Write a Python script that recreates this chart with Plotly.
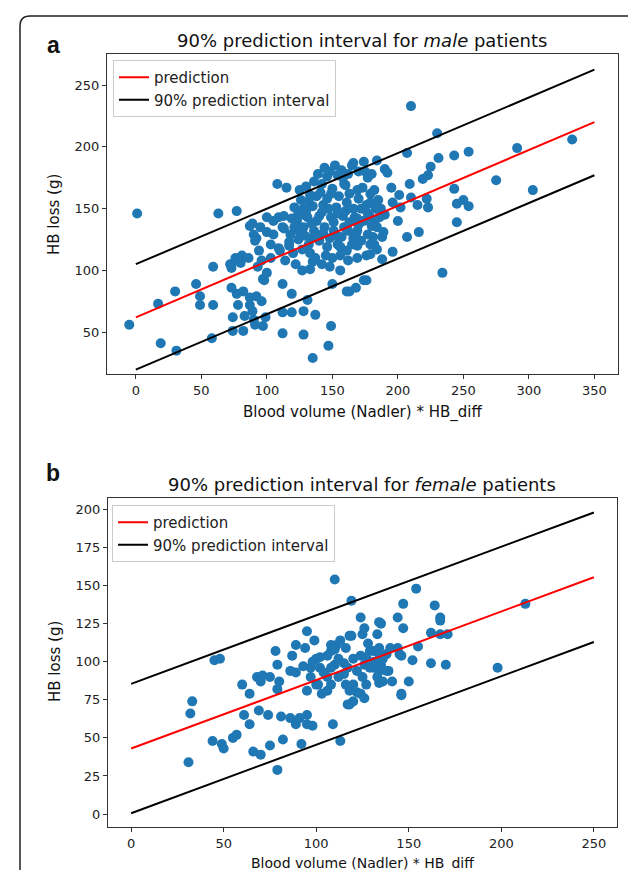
import plotly.graph_objects as go

# ---------------- data ----------------
male_x = [-5, 1, 17, 19, 30, 31, 46, 49, 49, 58, 59, 59, 63, 77,
          72, 73, 76, 77, 80, 81, 86,
          73, 77, 82, 87, 92, 96, 78, 87, 89, 74, 83, 90, 74, 82, 91, 97, 99,
          87, 89, 95, 90, 92, 91, 94, 97,
          100, 105, 103, 108, 115, 109, 113, 112, 113, 109, 110, 117, 117, 114,
          119, 121, 121, 123, 128, 128, 124, 122, 127, 126, 133, 131, 135, 136, 132, 133,
          140, 143, 144, 140, 142, 142, 144, 146, 149, 149, 151, 146, 150, 153, 154, 154, 158, 158, 159, 159, 156, 156,
          112, 119, 112, 119, 112, 128, 128, 131, 137, 149, 147, 135, 98,
          161, 161, 161, 160, 165, 166, 165, 167, 168, 168, 169, 169, 169, 169, 169, 170, 173, 174, 174, 176,
          177, 177, 177, 179, 179, 179, 179, 179, 182, 182, 182, 184, 184, 184, 187, 188, 188, 189, 190, 190,
          192, 195, 196, 196, 200, 201, 202, 207, 207, 209, 210, 210, 215, 216, 219, 222, 223, 223, 225, 230,
          231, 234, 243, 243, 245, 245, 250, 254, 254, 275, 291, 303, 333, 176, 163,
          125, 130, 136, 139, 148, 152, 157, 162, 170, 175, 180,
          128, 132, 138, 141, 146, 150, 155, 163, 166, 172, 176, 183, 185,
          124, 130, 134, 138, 142, 147, 151, 154, 160, 163, 170, 174, 180, 186,
          118, 125, 129, 134, 138, 143, 148, 153, 157, 162, 166, 172, 181,
          120, 127, 133, 137, 145, 150, 156, 162, 148, 135,
          105, 100, 103, 93, 96, 100]
male_y = [56, 146, 73, 41, 83, 35, 89, 79, 72, 45, 103, 72, 146, 148,
          105, 102, 110, 108, 106, 112, 110,
          86, 81, 83, 78, 79, 75, 72, 72, 67, 62, 63, 60, 51, 51, 56, 55, 62,
          136, 138, 135, 129, 126, 124, 116, 93,
          131, 129, 121, 170, 167, 143, 144, 135, 134, 118, 116, 120, 123, 108,
          142, 135, 151, 140, 145, 135, 125, 105, 100, 157, 161, 143, 152, 132, 121, 101,
          144, 153, 135, 124, 105, 170, 183, 176, 162, 143, 132, 119, 89, 151, 121, 177, 175, 144, 135, 170, 100, 119,
          89, 81, 66, 66, 49, 67, 48, 76, 64, 55, 39, 29, 92,
          155, 116, 83, 169, 185, 187, 121, 143, 129, 86, 110, 120, 132, 142, 165, 158, 167, 188, 92, 112,
          146, 129, 175, 155, 162, 143, 121, 113, 139, 165, 121, 189, 135, 117, 150, 127, 109, 131, 182, 145,
          179, 167, 155, 115, 140, 161, 151, 195, 127, 170, 233, 159, 153, 131, 174, 158, 151, 177, 184, 211,
          191, 98, 193, 166, 154, 139, 157, 196, 152, 173, 199, 165, 206, 92, 83,
          165, 168, 172, 178, 180, 185, 181, 178, 180, 180, 178,
          150, 156, 160, 163, 158, 166, 160, 162, 150, 150, 153, 150, 157,
          146, 148, 138, 140, 147, 150, 139, 146, 148, 139, 137, 140, 136, 143,
          129, 131, 128, 126, 129, 130, 126, 128, 127, 132, 126, 124, 127,
          114, 117, 114, 110, 112, 110, 112, 108, 103, 107,
          140, 143, 110, 103, 108, 98]

male_line_x = [0, 350]
male_pred = [62, 220]
male_upper = [105, 262.5]
male_lower = [19.6, 177]

female_x = [31, 33, 32, 45, 48, 44, 49, 50, 55, 57, 60, 64, 61, 64, 66, 70, 69, 68, 71, 75,
            70, 74, 75, 79, 78, 79, 79, 80, 81, 86, 89, 91, 95, 98, 95, 82, 92, 87, 86, 89,
            93, 97, 94, 95, 99, 89, 98, 100, 102, 97, 101, 106, 106, 108, 110, 112, 108, 111, 110, 119,
            124, 126, 118, 116, 120, 126, 122, 118, 118, 122, 126, 127, 109, 113, 95, 103, 100, 113, 102, 106,
            110, 108, 119, 127, 131, 134, 138, 135, 139, 141, 134, 129, 125, 120, 120, 124, 144, 145, 146, 134,
            133, 144, 147, 147, 154, 164, 213, 135, 167, 167, 125, 162, 167, 171, 155, 140, 129, 134, 136, 146,
            152, 162, 170, 198, 131, 134, 138, 133, 136, 150, 146, 116, 117, 115,
            115, 112, 104, 108, 128, 131, 124, 117]
female_y = [34, 74, 66, 101, 102, 48, 46, 43, 50, 52, 85, 79, 65, 59, 41, 39, 68, 90, 91, 90,
            87, 65, 45, 29, 107, 98, 82, 87, 64, 63, 59, 63, 65, 58, 59, 49, 46, 104, 94, 93,
            97, 96, 109, 120, 114, 111, 100, 102, 96, 90, 85, 90, 81, 85, 98, 102, 107, 111, 154, 140,
            129, 122, 117, 109, 102, 98, 94, 81, 72, 80, 76, 85, 59, 48, 81, 79, 85, 114, 103, 104,
            108, 111, 117, 103, 107, 109, 105, 98, 94, 87, 86, 96, 90, 85, 74, 79, 109, 105, 79, 126,
            118, 129, 138, 122, 148, 137, 138, 125, 129, 127, 118, 119, 118, 118, 110, 109, 107, 105, 102, 104,
            101, 99, 98, 96, 96, 94, 94, 90, 87, 87, 78, 85, 72, 99,
            92, 90, 93, 96, 112, 100, 104, 96]

female_line_x = [0, 250]
female_pred = [43, 155.5]
female_upper = [85.5, 198]
female_lower = [0.5, 113]

male_xticks = [0, 50, 100, 150, 200, 250, 300, 350]
male_yticks = [50, 100, 150, 200, 250]
female_xticks = [0, 50, 100, 150, 200, 250]
female_yticks = [0, 25, 50, 75, 100, 125, 150, 175, 200]

# ---------------- layout helpers ----------------
W, H = 636, 870
def px(x):
    return x / W
def py(y):
    return 1 - y / H

FONT = "DejaVu Sans"
BLUE = "#1f77b4"

fig = go.Figure()

def add_panel(xs, ys, lx, pred, up, lo, xa, ya, legend):
    fig.add_trace(go.Scatter(x=xs, y=ys, mode="markers", xaxis=xa, yaxis=ya,
                             marker=dict(color=BLUE, size=10, line=dict(width=0)),
                             showlegend=False, hoverinfo="skip"))
    fig.add_trace(go.Scatter(x=lx, y=pred, mode="lines", xaxis=xa, yaxis=ya,
                             line=dict(color="#ff0000", width=2), name="prediction",
                             legend=legend))
    fig.add_trace(go.Scatter(x=lx + [None] + lx, y=up + [None] + lo, mode="lines",
                             xaxis=xa, yaxis=ya, connectgaps=False,
                             line=dict(color="#000000", width=2),
                             name="90% prediction interval", legend=legend))

add_panel(male_x, male_y, male_line_x, male_pred, male_upper, male_lower, "x", "y", "legend")
add_panel(female_x, female_y, female_line_x, female_pred, female_upper, female_lower, "x2", "y2", "legend2")

axis_common = dict(showgrid=False, zeroline=False, showline=True, linecolor="#333333",
                   linewidth=1, mirror=True, ticks="outside", ticklen=4, tickwidth=1,
                   tickcolor="#333333", automargin=False,
                   tickfont=dict(family=FONT, size=13, color="#222222"))

fig.update_layout(
    width=W, height=H,
    margin=dict(l=0, r=0, t=0, b=0),
    paper_bgcolor="white", plot_bgcolor="white",
    xaxis=dict(domain=[px(99), px(610)], range=[-22, 368], anchor="y",
               tickvals=male_xticks, **axis_common),
    yaxis=dict(domain=[py(366), py(46)], range=[16.1, 275.2], anchor="x",
               tickvals=male_yticks, **axis_common),
    xaxis2=dict(domain=[px(100), px(609)], range=[-12.5, 262.5], anchor="y2",
                tickvals=female_xticks, **axis_common),
    yaxis2=dict(domain=[py(819), py(490)], range=[-8.5, 207.5], anchor="x2",
                tickvals=female_yticks, **axis_common),
    legend=dict(x=px(105), y=py(52), xanchor="left", yanchor="top",
                bgcolor="rgba(255,255,255,0.8)", bordercolor="#cccccc", borderwidth=1,
                font=dict(family=FONT, size=15, color="#222222"), tracegroupgap=0),
    legend2=dict(x=px(104), y=py(497), xanchor="left", yanchor="top",
                 bgcolor="rgba(255,255,255,0.8)", bordercolor="#cccccc", borderwidth=1,
                 font=dict(family=FONT, size=15, color="#222222"), tracegroupgap=0),
)

ann = []
def text(x, y, s, size, **kw):
    ann.append(dict(x=px(x), y=py(y), xref="paper", yref="paper", text=s,
                    showarrow=False, xanchor="center", yanchor="middle",
                    font=dict(family=kw.pop("family", FONT), size=size, color="#111111"), **kw))

text(354, 32, "90% prediction interval for <i>male</i> patients", 18)
text(354, 476, "90% prediction interval for <i>female</i> patients", 18)
text(354, 405, "Blood volume (Nadler) * HB_diff", 15)
text(354, 855, "Blood volume (Nadler) * HB_diff", 14)
text(46, 207, "HB loss (g)", 15, textangle=-90)
text(47, 654, "HB loss (g)", 15, textangle=-90)
text(45, 37, "<b>a</b>", 23, family="Liberation Sans")
text(45, 465, "<b>b</b>", 23, family="Liberation Sans")
fig.update_layout(annotations=ann)

border = (f"M {px(12)},{py(900)} L {px(12)},{py(18)} Q {px(12)},{py(8)} {px(22)},{py(8)} "
          f"L {px(618)},{py(8)} Q {px(628)},{py(8)} {px(628)},{py(18)} L {px(628)},{py(900)}")
fig.add_shape(type="path", path=border, xref="paper", yref="paper",
              line=dict(color="#222222", width=1.5))

fig.write_html("out.html")
